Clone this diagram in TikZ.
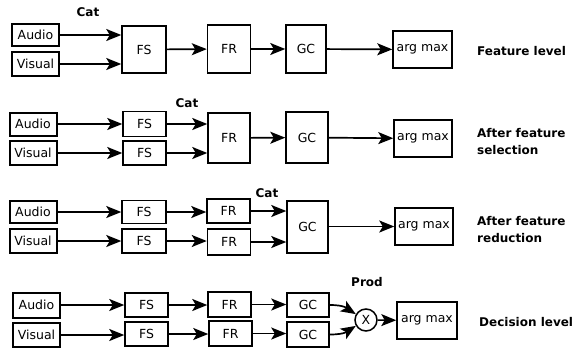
\documentclass[tikz,border=0pt]{standalone}
\usepackage{fontspec}
\setmainfont{DejaVu Sans}
\usetikzlibrary{arrows.meta}
\begin{document}
\begin{tikzpicture}[x=1pt,y=-1pt,
  every node/.style={font=\fontsize{12.5}{17}\selectfont},
  blk/.style={draw, line width=1.5pt, inner sep=0pt},
  src/.style={draw, line width=2pt, inner sep=0pt, minimum width=47pt},
  lab/.style={font=\fontsize{12}{17}\selectfont\bfseries},
  side/.style={lab, anchor=west, align=left, inner sep=0pt},
  arr/.style={line width=1.7pt, -{Stealth[length=15pt,width=12pt,inset=3.5pt]}}]
\useasboundingbox (0,0) rectangle (577,350);

% ---------- feature level fusion ----------
\node[src, minimum height=22pt] (a1) at (35.5,35) {Audio};
\node[src, minimum height=24pt] (v1) at (35.5,64) {Visual};
\node[blk, minimum width=44pt, minimum height=47pt] (fs1) at (144,49.5) {FS};
\node[blk, minimum width=43pt, minimum height=48pt] (fr1) at (229,49) {FR};
\node[blk, minimum width=40pt, minimum height=48pt] (gc1) at (306,49) {GC};
\node[blk, minimum width=59pt, minimum height=37pt] (am1) at (422.5,49.5) {arg max};
\node[lab] (cat1) at (88,12) {Cat};
\node[side] (t1) at (477,51) {Feature level};
\draw[arr] (a1.east) -- (a1.east -| fs1.west);
\draw[arr] (v1.east) -- (v1.east -| fs1.west);
\draw[arr] (fs1) -- (fr1);
\draw[arr] (fr1) -- (gc1);
\draw[arr] (gc1) -- (am1);

% ---------- after feature selection ----------
\node[src, minimum height=23pt] (a2) at (33,124) {Audio};
\node[src, minimum height=24pt] (v2) at (33,153) {Visual};
\node[blk, minimum width=43pt, minimum height=25pt] (fs2a) at (144.5,124) {FS};
\node[blk, minimum width=43pt, minimum height=24pt] (fs2b) at (144.5,153) {FS};
\node[blk, minimum width=42pt, minimum height=50pt] (fr2) at (229,138) {FR};
\node[blk, minimum width=42pt, minimum height=51pt] (gc2) at (307,137.5) {GC};
\node[blk, minimum width=58pt, minimum height=37pt] (am2) at (423,138.5) {arg max};
\node[lab] (cat2) at (187,103) {Cat};
\node[side] (t2) at (477,141.5) {After feature\\selection};
\draw[arr] (a2.east) -- (a2.east -| fs2a.west);
\draw[arr] (v2.east) -- (v2.east -| fs2b.west);
\draw[arr] (fs2a.east) -- (fs2a.east -| fr2.west);
\draw[arr] (fs2b.east) -- (fs2b.east -| fr2.west);
\draw[arr] (fr2) -- (gc2);
\draw[arr] (gc2) -- (am2);

% ---------- after feature reduction ----------
\node[src, minimum height=22pt] (a3) at (33,212) {Audio};
\node[src, minimum height=24pt] (v3) at (33,241) {Visual};
\node[blk, minimum width=44pt, minimum height=23pt] (fs3a) at (144,212) {FS};
\node[blk, minimum width=44pt, minimum height=24pt] (fs3b) at (144,241) {FS};
\node[blk, minimum width=43pt, minimum height=24pt] (fr3a) at (228.5,211) {FR};
\node[blk, minimum width=43pt, minimum height=26pt] (fr3b) at (229,242) {FR};
\node[blk, minimum width=41pt, minimum height=52pt] (gc3) at (307.5,227) {GC};
\node[blk, minimum width=58pt, minimum height=37pt] (am3) at (424,226.5) {arg max};
\node[lab] (cat3) at (267,193) {Cat};
\node[side] (t3) at (477,229.5) {After feature\\reduction};
\draw[arr] (a3.east) -- (a3.east -| fs3a.west);
\draw[arr] (v3.east) -- (v3.east -| fs3b.west);
\draw[arr] (fs3a.east) -- (fs3a.east -| fr3a.west);
\draw[arr] (fs3b.east) -- (fs3b.east -| fr3b.west);
\draw[arr] (fr3a.east) -- (fr3a.east -| gc3.west);
\draw[arr] (fr3b.east) -- (fr3b.east -| gc3.west);
\draw[arr] (gc3.east |- am3.west) -- (am3.west);

% ---------- decision level fusion ----------
\node[src, minimum height=25pt] (a4) at (36.5,305) {Audio};
\node[src, minimum height=24pt] (v4) at (36.5,335) {Visual};
\node[blk, minimum width=43pt, minimum height=24pt] (fs4a) at (146.5,305) {FS};
\node[blk, minimum width=43pt, minimum height=24pt] (fs4b) at (146.5,334) {FS};
\node[blk, minimum width=43pt, minimum height=25pt] (fr4a) at (229.5,304.5) {FR};
\node[blk, minimum width=43pt, minimum height=25pt] (fr4b) at (230.5,333.5) {FR};
\node[blk, minimum width=42pt, minimum height=24pt] (gc4a) at (308,305) {GC};
\node[blk, minimum width=42pt, minimum height=25pt] (gc4b) at (308,334.5) {GC};
\node[draw, circle, line width=1.5pt, minimum size=22pt, inner sep=0pt] (x4) at (366,320) {X};
\node[blk, minimum width=60pt, minimum height=37pt] (am4) at (427,320.5) {arg max};
\node[lab] (prod) at (367,282) {Prod};
\node[side] (t4) at (479,322) {Decision level};
\draw[arr] (a4.east) -- (a4.east -| fs4a.west);
\draw[arr] (v4.east) -- (v4.east -| fs4b.west);
\draw[arr] (fs4a.east) -- (fs4a.east -| fr4a.west);
\draw[arr] (fs4b.east) -- (fs4b.east -| fr4b.west);
\draw[arr] (fr4a.east) -- (fr4a.east -| gc4a.west);
\draw[arr] (fr4b.east) -- (fr4b.east -| gc4b.west);
\draw[arr] (gc4a.east) .. controls +(16,0) and +(-8,-5) .. (x4.150);
\draw[arr] (gc4b.east) .. controls +(16,0) and +(-8,5) .. (x4.210);
\draw[arr] (x4) -- (am4);
\end{tikzpicture}
\end{document}
